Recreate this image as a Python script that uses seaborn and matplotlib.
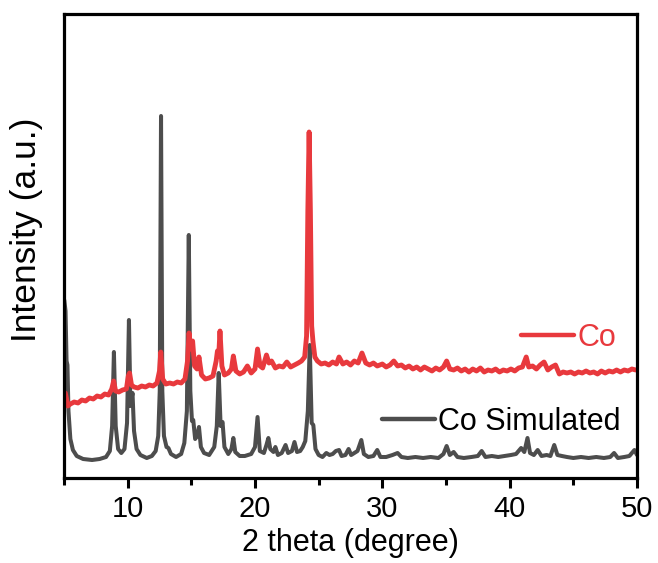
import numpy as np
import pandas as pd
import matplotlib
matplotlib.use("Agg")
import matplotlib.pyplot as plt
import seaborn as sns
from matplotlib.lines import Line2D

# ---- data (x: 2 theta in degree, y: intensity, a.u.) ----
sim_x = [5.02, 5.12, 5.2, 5.27, 5.35, 5.5, 5.7, 6.0, 6.5, 7.2, 7.8, 8.3, 8.6, 8.78, 8.92, 9.06, 9.25, 9.5,
         9.75, 9.95, 10.1, 10.22, 10.38, 10.5, 10.7, 11.0, 11.5, 11.9, 12.2, 12.4, 12.52, 12.62, 12.72,
         12.85, 13.05, 13.2, 13.4, 13.8, 14.2, 14.45, 14.65, 14.8, 14.92, 15.05, 15.15, 15.3, 15.45, 15.6,
         15.75, 16.0, 16.4, 16.8, 17.0, 17.15, 17.3, 17.45, 17.6, 17.9, 18.15, 18.3, 18.45, 18.8, 19.2,
         19.7, 20.0, 20.2, 20.38, 20.7, 20.9, 21.05, 21.2, 21.45, 21.6, 21.8, 22.1, 22.4, 22.6, 22.9, 23.1,
         23.3, 23.55, 23.75, 23.95, 24.15, 24.3, 24.45, 24.58, 24.75, 25.0, 25.3, 25.6, 25.85, 26.1, 26.35,
         26.6, 26.8, 27.1, 27.35, 27.55, 27.8, 28.05, 28.35, 28.55, 28.9, 29.3, 29.6, 29.85, 30.3, 30.8,
         31.2, 31.5, 32.0, 32.6, 33.2, 33.8, 34.4, 34.8, 35.05, 35.3, 35.6, 35.9, 36.4, 37.0, 37.5, 37.8,
         38.1, 38.6, 39.1, 39.6, 40.1, 40.5, 40.9, 41.15, 41.4, 41.6, 41.9, 42.2, 42.5, 42.9, 43.2, 43.5,
         43.75, 44.1, 44.5, 45.0, 45.6, 46.2, 46.8, 47.4, 47.9, 48.2, 48.5, 49.0, 49.4, 49.8, 50.0]
sim_y = [161, 150, 100, 96, 50, 22, 11, 5, 2, 1, 2, 4, 10, 35, 109, 35, 12, 8,
         12, 38, 141, 55, 68, 30, 12, 6, 3, 5, 10, 25, 70, 345, 70,
         25, 14, 13, 7, 4, 7, 18, 50, 226, 70, 40, 41, 22, 25, 34,
         14, 8, 6, 14, 35, 88, 35, 39, 14, 7, 12, 23, 9, 5, 5,
         7, 14, 44, 10, 8, 16, 23, 12, 9, 14, 6, 8, 16, 8, 10, 19,
         9, 10, 14, 20, 50, 116, 38, 36, 12, 6, 4, 8, 6, 7, 10,
         11, 5, 6, 12, 6, 8, 10, 21, 7, 4, 5, 11, 4, 4, 6,
         8, 4, 3, 4, 3, 4, 3, 7, 15, 6, 9, 4, 3, 4, 5, 10,
         4, 5, 4, 5, 6, 7, 13, 9, 23, 8, 6, 11, 5, 6, 5, 16,
         6, 5, 4, 3, 4, 3, 4, 3, 4, 8, 3, 4, 5, 11, 6]

co_x = [5.1, 5.2, 5.3, 5.5, 5.8, 6.1, 6.4, 6.7, 7.0, 7.3, 7.6, 7.9, 8.2, 8.5, 8.75, 8.9, 9.05, 9.3, 9.6,
        9.9, 10.05, 10.15, 10.3, 10.5, 10.8, 11.1, 11.4, 11.7, 12.0, 12.3, 12.5, 12.6, 12.75, 13.0, 13.3,
        13.6, 13.9, 14.2, 14.5, 14.7, 14.82, 14.95, 15.1, 15.25, 15.45, 15.6, 15.8, 16.1, 16.4, 16.7,
        16.95, 17.05, 17.15, 17.25, 17.4, 17.6, 17.9, 18.15, 18.3, 18.5, 18.8, 19.1, 19.4, 19.7, 20.0,
        20.2, 20.4, 20.6, 20.9, 21.1, 21.3, 21.6, 21.9, 22.2, 22.5, 22.8, 23.1, 23.4, 23.65, 23.9, 24.05,
        24.15, 24.25, 24.35, 24.45, 24.55, 24.7, 24.9, 25.2, 25.5, 25.8, 26.1, 26.4, 26.6, 26.9, 27.2,
        27.5, 27.8, 28.1, 28.4, 28.7, 29.0, 29.3, 29.6, 30.0, 30.3, 30.6, 30.9, 31.2, 31.5, 31.8, 32.1,
        32.4, 32.7, 33.0, 33.3, 33.6, 33.9, 34.2, 34.5, 34.8, 35.05, 35.3, 35.6, 35.9, 36.2, 36.5, 36.8,
        37.1, 37.4, 37.7, 38.0, 38.3, 38.6, 38.9, 39.2, 39.5, 39.8, 40.1, 40.4, 40.7, 41.0, 41.3, 41.5,
        41.8, 42.1, 42.4, 42.7, 43.0, 43.3, 43.6, 43.9, 44.2, 44.5, 44.8, 45.1, 45.4, 45.7, 46.0, 46.3,
        46.6, 46.9, 47.2, 47.5, 47.8, 48.1, 48.4, 48.7, 49.0, 49.3, 49.6, 49.9]
co_y = [68, 62, 55, 57, 59, 58, 61, 60, 63, 62, 65, 64, 67, 66, 72, 80, 70, 69, 71,
        72, 85, 88, 76, 74, 73, 75, 74, 76, 75, 78, 90, 109, 82, 77, 78,
        77, 79, 78, 82, 100, 128, 112, 120, 95, 92, 104, 86, 82, 83, 85,
        100, 110, 105, 130, 95, 86, 88, 92, 105, 90, 87, 89, 95, 88, 92,
        112, 95, 93, 106, 98, 100, 93, 95, 94, 99, 94, 96, 98, 100, 104, 125,
        250, 329, 250, 135, 120, 104, 100, 97, 98, 96, 99, 97, 104, 97, 99,
        96, 100, 98, 108, 98, 96, 98, 95, 97, 94, 96, 100, 95, 96, 93, 95,
        92, 94, 91, 94, 92, 90, 93, 91, 94, 100, 92, 91, 93, 90, 92, 89,
        92, 90, 93, 89, 91, 90, 92, 89, 91, 90, 92, 90, 93, 94, 104, 94,
        95, 92, 96, 99, 91, 94, 96, 87, 89, 88, 89, 87, 89, 88, 90, 88,
        89, 87, 90, 88, 90, 89, 91, 89, 91, 90, 92, 91]

xticks = [10, 20, 30, 40, 50]
minor_xticks = [5, 15, 25, 35, 45]
labels = ["Co", "Co Simulated"]

RED = "#E8393D"
GRAY = "#4D4D4D"

sns.set_style("ticks")
plt.rcParams["font.family"] = ["Liberation Sans", "DejaVu Sans"]
plt.rcParams["text.color"] = "black"
plt.rcParams["axes.labelcolor"] = "black"
plt.rcParams["xtick.color"] = "black"
plt.rcParams["ytick.color"] = "black"

fig = plt.figure(figsize=(6.58, 5.63), dpi=100)
ax = fig.add_axes([64 / 658, 85 / 563, 573 / 658, 464 / 563])

df_sim = pd.DataFrame({"x": sim_x, "y": sim_y})
df_co = pd.DataFrame({"x": co_x, "y": co_y})
sns.lineplot(data=df_sim, x="x", y="y", ax=ax, color=GRAY, lw=2.9, sort=False, estimator=None)
sns.lineplot(data=df_co, x="x", y="y", ax=ax, color=RED, lw=3.5, sort=False, estimator=None)

ax.set_xlim(5, 50)
ax.set_ylim(-17, 447)
ax.set_xticks(xticks)
ax.set_xticks(minor_xticks, minor=True)
ax.set_xticklabels([str(t) for t in xticks], fontsize=21, color="black")
ax.set_yticks([])
ax.tick_params(axis="x", which="major", direction="out", length=7, width=2.2, pad=5,
               color="black", labelcolor="black")
ax.tick_params(axis="x", which="minor", direction="out", length=5, width=2.2, color="black")
ax.set_xlabel("2 theta (degree)", fontsize=22, labelpad=4, color="black")
ax.set_ylabel("Intensity (a.u.)", fontsize=25.5, color="black")
ax.yaxis.set_label_coords(-0.036, 0.535)
for s in ax.spines.values():
    s.set_visible(True)
    s.set_linewidth(2.3)
    s.set_color("black")

h_co = Line2D([], [], color=RED, lw=3.2)
h_sim = Line2D([], [], color=GRAY, lw=3.2)
leg1 = ax.legend([h_co], [labels[0]], loc="center left", bbox_to_anchor=(0.797, 0.302),
                 frameon=False, fontsize=22, handlelength=1.75, handletextpad=0.12,
                 borderpad=0, borderaxespad=0)
leg1.get_texts()[0].set_color(RED)
ax.add_artist(leg1)
leg2 = ax.legend([h_sim], [labels[1]], loc="center left", bbox_to_anchor=(0.555, 0.121),
                 frameon=False, fontsize=22, handlelength=1.72, handletextpad=0.12,
                 borderpad=0, borderaxespad=0)
leg2.get_texts()[0].set_color("black")

fig.savefig("out.png", dpi=100)
